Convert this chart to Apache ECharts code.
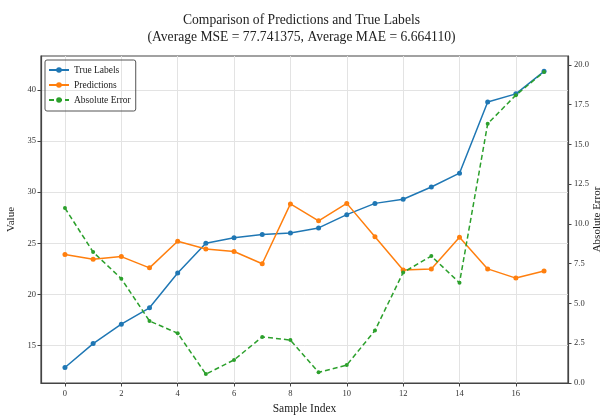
<!DOCTYPE html>
<html>
<head>
<meta charset="utf-8">
<script src="https://cdn.jsdelivr.net/npm/echarts@6/dist/echarts.min.js"></script>
<style>html,body{margin:0;padding:0;background:#fff;}#c{width:603px;height:417px;}</style>
</head>
<body>
<div id="c"></div>
<script>
const sampleIndex = [0,1,2,3,4,5,6,7,8,9,10,11,12,13,14,15,16,17];
const trueLabels = [12.86,15.2,17.1,18.7,22.1,25.0,25.55,25.85,26.0,26.5,27.8,28.9,29.3,30.5,31.85,38.8,39.6,41.8];
const predictions = [23.9,23.45,23.7,22.6,25.2,24.45,24.2,23.0,28.85,27.2,28.9,25.65,22.4,22.5,25.6,22.5,21.6,22.3];
const absError = [11.0,8.23,6.56,3.9,3.13,0.56,1.45,2.9,2.7,0.67,1.13,3.3,6.95,7.98,6.3,16.3,18.1,19.56];
const xTicks = [0,2,4,6,8,10,12,14,16];
const leftTicks = [15,20,25,30,35,40];
const rightTicks = [0,2.5,5,7.5,10,12.5,15,17.5,20];

const FONT = 'Liberation Serif';
const pairs = a => sampleIndex.map((x,i)=>[x,a[i]]);
const axisLine = {show:true, onZero:false, lineStyle:{color:'#444', width:1.2}};
const tick = vals => ({show:true, inside:false, length:3.5, customValues: vals, lineStyle:{color:'#444'}});

const chart = echarts.init(document.getElementById('c'), null, {renderer:'canvas'});
chart.setOption({
  animation:false,
  backgroundColor:'#fff',
  title:{
    text:'Comparison of Predictions and True Labels\n(Average MSE = 77.741375, Average MAE = 6.664110)',
    left:'center', top:7,
    textStyle:{fontFamily:FONT, fontSize:13.6, fontWeight:'normal', color:'#222', lineHeight:17}
  },
  grid:{left:41, right:35, top:56, bottom:34, show:true, borderColor:'#444', borderWidth:1.2,
        outerBoundsMode:'none', containLabel:false},
  legend:{
    left:45, top:60, orient:'vertical', itemGap:5, itemWidth:20, itemHeight:7,
    padding:[5,5,6,3], borderColor:'#555', borderWidth:1, borderRadius:2,
    textStyle:{fontFamily:FONT, fontSize:9.5, color:'#222'},
    data:['True Labels','Predictions','Absolute Error']
  },
  xAxis:{
    type:'value', min:-0.85, max:17.85,
    name:'Sample Index', nameLocation:'middle', nameGap:19,
    nameTextStyle:{fontFamily:FONT, fontSize:11.5, color:'#222'},
    axisLine:axisLine, axisTick:tick(xTicks),
    axisLabel:{customValues:xTicks, fontFamily:FONT, fontSize:8.5, color:'#333', margin:6},
    splitLine:{show:true, lineStyle:{color:'#e3e3e3', width:1}}
  },
  yAxis:[
    {
      type:'value', min:11.35, max:43.3, position:'left',
      name:'Value', nameLocation:'middle', nameGap:23,
      nameTextStyle:{fontFamily:FONT, fontSize:11, color:'#222'},
      axisLine:axisLine, axisTick:tick(leftTicks),
      axisLabel:{customValues:leftTicks, fontFamily:FONT, fontSize:8.5, color:'#333', margin:5},
      splitLine:{show:true, lineStyle:{color:'#e3e3e3', width:1}}
    },
    {
      type:'value', min:0, max:20.56, position:'right',
      name:'Absolute Error', nameLocation:'middle', nameGap:24, nameMoveOverlap:false,
      nameTextStyle:{fontFamily:FONT, fontSize:11, color:'#222'},
      axisLine:axisLine, axisTick:tick(rightTicks),
      axisLabel:{customValues:rightTicks, fontFamily:FONT, fontSize:8.5, color:'#333', margin:6,
        formatter:v=>v.toFixed(1)},
      splitLine:{show:false}
    }
  ],
  series:[
    {
      name:'True Labels', type:'line', data:pairs(trueLabels), yAxisIndex:0,
      symbol:'circle', symbolSize:5, color:'#1f77b4',
      lineStyle:{width:1.5, color:'#1f77b4'}, itemStyle:{color:'#1f77b4'}, z:3
    },
    {
      name:'Predictions', type:'line', data:pairs(predictions), yAxisIndex:0,
      symbol:'circle', symbolSize:5, color:'#ff7f0e',
      lineStyle:{width:1.5, color:'#ff7f0e'}, itemStyle:{color:'#ff7f0e'}, z:3
    },
    {
      name:'Absolute Error', type:'line', data:pairs(absError), yAxisIndex:1,
      symbol:'circle', symbolSize:4, color:'#2ca02c',
      lineStyle:{width:1.5, color:'#2ca02c', type:[5,3]}, itemStyle:{color:'#2ca02c'}, z:3
    }
  ]
});
</script>
</body>
</html>
